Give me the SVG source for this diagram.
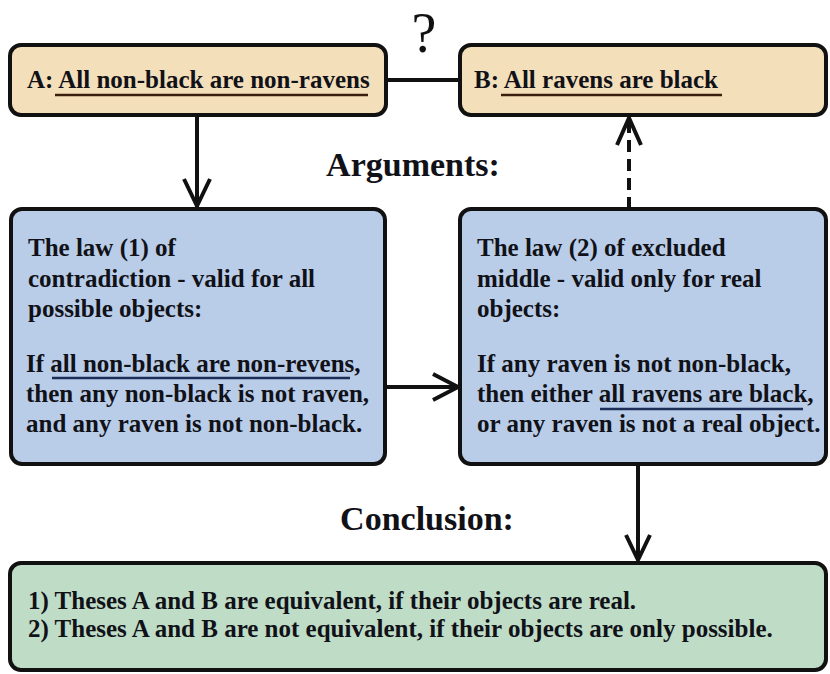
<svg xmlns="http://www.w3.org/2000/svg" width="830" height="674" viewBox="0 0 830 674">
<style>
  .box { stroke: #111; stroke-width: 4; }
  .tan { fill: #f4dfbb; }
  .blue { fill: #b9cde9; }
  .green { fill: #bfdcc7; }
  .t { font-family: "Liberation Serif", "Times New Roman", serif; font-weight: bold; fill: #111118; }
  .body { font-size: 25px; }
  .head { font-size: 34px; }
  .conn { stroke: #111; stroke-width: 4; fill: none; }
  .ul { stroke-width: 2.5; }
</style>
<rect width="830" height="674" fill="#ffffff"/>

<g id="connectors">
  <line class="conn" x1="386" y1="80" x2="460" y2="80"/>
  <line class="conn" x1="197" y1="115" x2="197" y2="207"/>
  <polyline class="conn" points="184,179 197,206 210,179"/>
  <line class="conn" x1="385" y1="387" x2="458" y2="387"/>
  <polyline class="conn" points="433,374 458,387 433,400"/>
  <line class="conn" x1="629" y1="209" x2="629" y2="120" stroke-dasharray="12,7"/>
  <polyline class="conn" points="617,145 629,118 641,145"/>
  <line class="conn" x1="638" y1="464" x2="638" y2="560"/>
  <polyline class="conn" points="626,535 638,560 650,535"/>
</g>

<g id="question">
  <text x="424" y="52" text-anchor="middle" font-family="'Liberation Serif', serif" font-size="56" fill="#111">?</text>
</g>

<g id="nodeA">
  <rect class="box tan" x="10" y="45" width="376" height="70" rx="11"/>
  <text class="t body" x="27" y="88">A: All non-black are non-ravens</text>
  <line x1="55" y1="95" x2="368" y2="95" stroke="#3a200c" class="ul"/>
</g>

<g id="nodeB">
  <rect class="box tan" x="460" y="45" width="366" height="70" rx="11"/>
  <text class="t body" x="474" y="88">B: All ravens are black</text>
  <line x1="501" y1="95" x2="722" y2="95" stroke="#3a200c" class="ul"/>
</g>

<g id="arguments-label">
  <text class="t head" x="413" y="176" text-anchor="middle">Arguments:</text>
</g>

<g id="nodeLaw1">
  <rect class="box blue" x="11" y="209" width="374" height="255" rx="11"/>
  <text class="t body" x="28">
    <tspan x="28" y="256">The law (1) of</tspan>
    <tspan x="28" y="287">contradiction - valid for all</tspan>
    <tspan x="28" y="317">possible objects:</tspan>
    <tspan x="26" y="372">If all non-black are non-revens,</tspan>
    <tspan x="26" y="402">then any non-black is not raven,</tspan>
    <tspan x="26" y="432">and any raven is not non-black.</tspan>
  </text>
  <line x1="52" y1="378" x2="350" y2="378" stroke="#1c2e57" class="ul"/>
</g>

<g id="nodeLaw2">
  <rect class="box blue" x="460" y="209" width="366" height="255" rx="11"/>
  <text class="t body">
    <tspan x="477" y="256">The law (2) of excluded</tspan>
    <tspan x="477" y="287">middle - valid only for real</tspan>
    <tspan x="477" y="317">objects:</tspan>
    <tspan x="477" y="372">If any raven is not non-black,</tspan>
    <tspan x="477" y="402">then either all ravens are black,</tspan>
    <tspan x="477" y="432">or any raven is not a real object.</tspan>
  </text>
  <line x1="600" y1="409" x2="803" y2="409" stroke="#1c2e57" class="ul"/>
</g>

<g id="conclusion-label">
  <text class="t head" x="427" y="530" text-anchor="middle">Conclusion:</text>
</g>

<g id="nodeConclusion">
  <rect class="box green" x="10" y="563" width="816" height="107" rx="11"/>
  <text class="t body">
    <tspan x="28" y="609">1) Theses A and B are equivalent, if their objects are real.</tspan>
    <tspan x="28" y="637">2) Theses A and B are not equivalent, if their objects are only possible.</tspan>
  </text>
</g>
</svg>
